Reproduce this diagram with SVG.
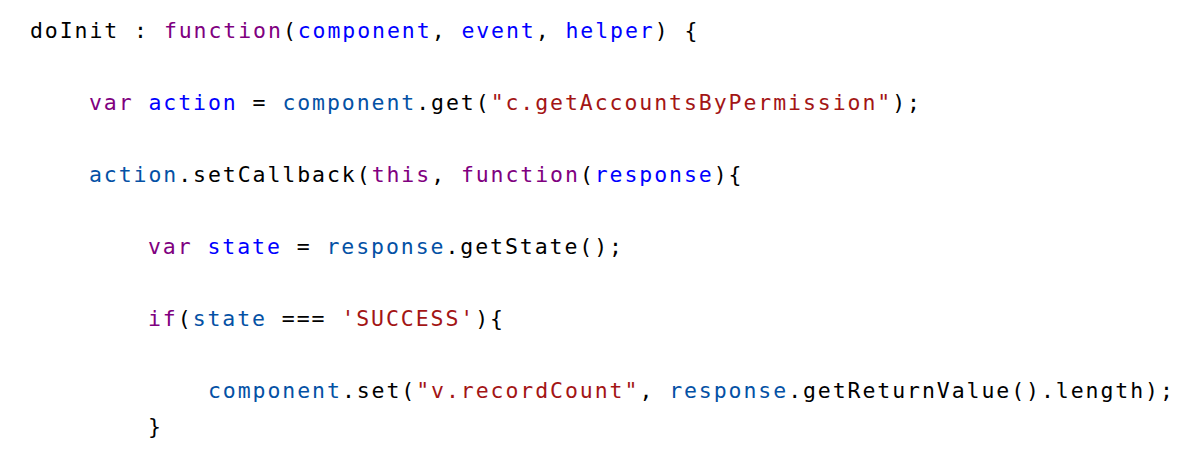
<svg xmlns="http://www.w3.org/2000/svg" width="1204" height="450" viewBox="0 0 1204 450">
<style>
text{font-family:"DejaVu Sans Mono","Liberation Mono",monospace;font-size:21.5px;letter-spacing:1.93px;fill:#000;white-space:pre}
.k{fill:#800080}
.p{fill:#0000ff}
.v{fill:#0451a5}
.s{fill:#a31515}
</style>
<rect width="1204" height="450" fill="#fff"/>
<g id="code" xml:space="preserve">
<text x="30" y="38">doInit : <tspan class="k">function</tspan>(<tspan class="p">component</tspan>, <tspan class="p">event</tspan>, <tspan class="p">helper</tspan>) {</text>
<text x="89" y="110"><tspan class="k">var</tspan> <tspan class="p">action</tspan> = <tspan class="v">component</tspan>.get(<tspan class="s">"c.getAccountsByPermission"</tspan>);</text>
<text x="89" y="182"><tspan class="v">action</tspan>.setCallback(<tspan class="k">this</tspan>, <tspan class="k">function</tspan>(<tspan class="p">response</tspan>){</text>
<text x="148" y="254"><tspan class="k">var</tspan> <tspan class="p">state</tspan> = <tspan class="v">response</tspan>.getState();</text>
<text x="148" y="326"><tspan class="k">if</tspan>(<tspan class="v">state</tspan> === <tspan class="s">'SUCCESS'</tspan>){</text>
<text x="208" y="398"><tspan class="v">component</tspan>.set(<tspan class="s">"v.recordCount"</tspan>, <tspan class="v">response</tspan>.getReturnValue().length);</text>
<text x="148" y="434">}</text>
</g>
</svg>
